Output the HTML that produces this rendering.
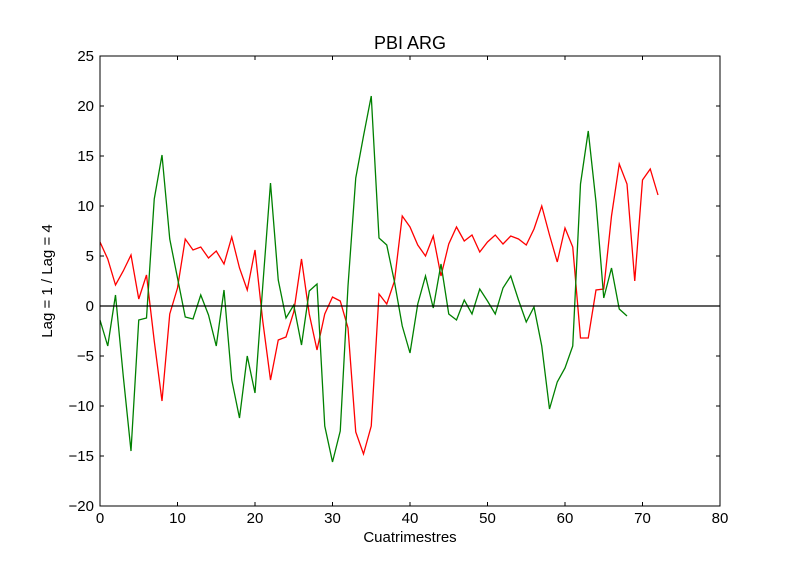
<!DOCTYPE html>
<html><head><meta charset="utf-8"><style>
body{margin:0;background:#fff;}
svg{display:block;font-family:"Liberation Sans","DejaVu Sans",sans-serif;}
</style></head><body>
<svg id="chart" width="800" height="562" viewBox="0 0 800 562" xmlns="http://www.w3.org/2000/svg">
<rect x="0" y="0" width="800" height="562" fill="#fff"/>
<text x="410" y="49" text-anchor="middle" font-size="18">PBI ARG</text>
<text x="410" y="542" text-anchor="middle" font-size="15">Cuatrimestres</text>
<text x="52" y="281" text-anchor="middle" font-size="15" transform="rotate(-90 52 281)">Lag = 1 / Lag = 4</text>
<g id="ticks"></g>
<g id="series"></g>
<rect x="100" y="56" width="620" height="450" fill="none" stroke="#000" stroke-width="1"/>
</svg>
<script>
const xTicks=[0,10,20,30,40,50,60,70,80];
const yTicks=[-20,-15,-10,-5,0,5,10,15,20,25];
const redValues=[6.4,4.7,2.1,3.5,5.1,0.7,3.1,-3.5,-9.5,-0.8,1.8,6.7,5.6,5.9,4.8,5.5,4.2,6.9,3.8,1.6,5.6,-1.5,-7.4,-3.4,-3.1,-0.6,4.7,-0.8,-4.4,-0.8,0.9,0.5,-2.2,-12.6,-14.8,-12.0,1.2,0.2,2.5,9.0,7.9,6.1,5.0,7.0,3.0,6.2,7.9,6.5,7.1,5.4,6.4,7.1,6.2,7.0,6.7,6.1,7.7,10.0,7.1,4.4,7.8,5.9,-3.2,-3.2,1.6,1.7,9.0,14.2,12.2,2.5,12.6,13.7,11.1];
const greenValues=[-1.4,-4.0,1.1,-7.0,-14.5,-1.4,-1.2,10.7,15.1,6.7,2.8,-1.1,-1.3,1.1,-0.9,-4.0,1.6,-7.4,-11.2,-5.0,-8.7,2.0,12.3,2.6,-1.2,0.1,-3.9,1.5,2.2,-12.0,-15.6,-12.5,2.0,12.8,17.0,21.0,6.8,6.1,2.4,-2.0,-4.7,0.2,3.0,-0.2,4.2,-0.8,-1.4,0.6,-0.8,1.7,0.5,-0.8,1.8,3.0,0.6,-1.6,-0.1,-4.0,-10.3,-7.6,-6.2,-4.0,12.2,17.5,10.4,0.8,3.8,-0.3,-1.0];
const NS="http://www.w3.org/2000/svg";
const L=100,R=720,T=56,B=506;
function xs(v){return L+(v-0)/(80-0)*(R-L);}
function ys(v){return B-(v+20)/(25+20)*(B-T);}
const tg=document.getElementById('ticks');
xTicks.forEach(t=>{
  const x=xs(t);
  const a=document.createElementNS(NS,'path');
  a.setAttribute('d',`M${x} ${B}v-4M${x} ${T}v4`);
  a.setAttribute('stroke','#000');
  
  
  tg.appendChild(a);
  const tx=document.createElementNS(NS,'text');
  tx.setAttribute('x',x);tx.setAttribute('y',B+17);
  tx.setAttribute('text-anchor','middle');tx.setAttribute('font-size','15');
  
  
  tx.textContent=t;tg.appendChild(tx);
});
yTicks.forEach(t=>{
  const y=ys(t);
  const a=document.createElementNS(NS,'path');
  a.setAttribute('d',`M${L} ${y}h4M${R} ${y}h-4`);
  a.setAttribute('stroke','#000');
  
  
  tg.appendChild(a);
  const tx=document.createElementNS(NS,'text');
  tx.setAttribute('x',L-6);tx.setAttribute('y',y+5);
  tx.setAttribute('text-anchor','end');tx.setAttribute('font-size','15');
  
  
  tx.textContent=t<0?'\u2212'+Math.abs(t):t;tg.appendChild(tx);
});
const sg=document.getElementById('series');
function line(vals,color,name){
  const p=document.createElementNS(NS,'polyline');
  p.setAttribute('points',vals.map((v,i)=>xs(i)+','+ys(v)).join(' '));
  p.setAttribute('fill','none');p.setAttribute('stroke',color);p.setAttribute('stroke-width','1.3');
  
  
  sg.appendChild(p);
}
line(redValues,'#ff0000','lag-1-line');
line(greenValues,'#008000','lag-4-line');
const z=document.createElementNS(NS,'line');
z.setAttribute('x1',L);z.setAttribute('x2',R);z.setAttribute('y1',ys(0));z.setAttribute('y2',ys(0));
z.setAttribute('stroke','#000');z.setAttribute('stroke-width','1.3');


sg.appendChild(z);
</script>
</body></html>
